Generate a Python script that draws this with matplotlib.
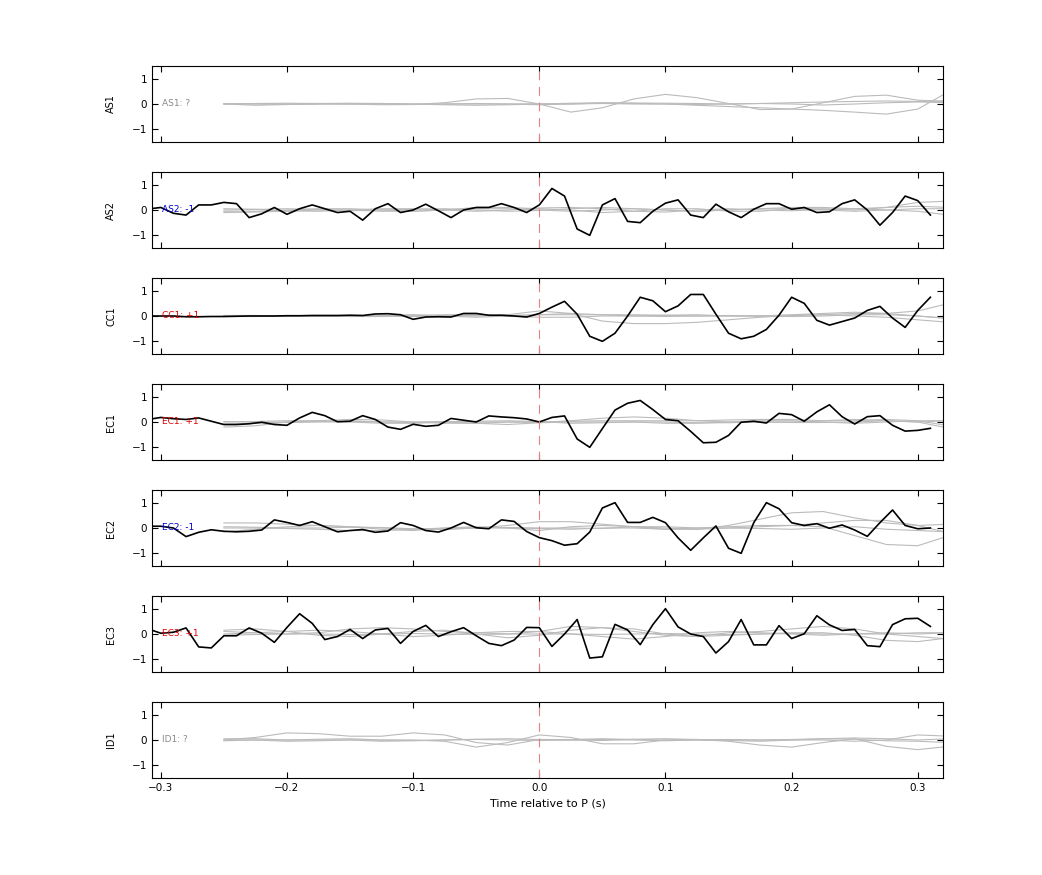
import numpy as np
import matplotlib.pyplot as plt

stations = ['AS1', 'AS2', 'CC1', 'EC1', 'EC2', 'EC3', 'ID1']
polarity = ['?', '-1', '+1', '+1', '-1', '+1', '?']
pol_color = {'?': '#888888', '-1': '#0000cc', '+1': '#dd0000'}

# black traces, sampled every 0.01 s from -0.31 to 0.31
t_obs = np.round(np.arange(-31, 32) * 0.01, 2)
obs = {
    'AS2': [0.04, 0.1, -0.13, -0.2, 0.2, 0.2, 0.3, 0.25, -0.3, -0.15, 0.1, -0.17, 0.05, 0.2, 0.05, -0.1,
            -0.05, -0.4, 0.05, 0.25, -0.1, 0, 0.23, -0.03, -0.3, 0, 0.1, 0.1, 0.25, 0.1, -0.1, 0.2,
            0.85, 0.55, -0.75, -1.0, 0.2, 0.45, -0.45, -0.5, -0.05, 0.27, 0.4, -0.2, -0.3, 0.23, -0.07,
            -0.3, 0.03, 0.25, 0.25, 0.03, 0.1, -0.1, -0.07, 0.25, 0.4, 0.0, -0.6, -0.1, 0.55, 0.37, -0.2],
    'CC1': [0, 0, 0, -0.03, -0.03, -0.02, -0.02, -0.01, 0, 0, 0, 0.01, 0.01, 0.02, 0.02, 0.02,
            0.03, 0.02, 0.08, 0.09, 0.05, -0.13, -0.04, -0.03, -0.04, 0.1, 0.1, 0.03, 0.03, 0, -0.04, 0.1,
            0.35, 0.58, 0.07, -0.8, -1.0, -0.68, 0, 0.74, 0.6, 0.17, 0.4, 0.85, 0.85, 0.07, -0.68,
            -0.9, -0.8, -0.53, 0.03, 0.74, 0.5, -0.17, -0.36, -0.22, -0.08, 0.22, 0.38, -0.08, -0.45, 0.22, 0.74],
    'EC1': [0.1, 0.18, 0.13, 0.1, 0.16, 0.03, -0.1, -0.1, -0.07, -0.01, -0.1, -0.13, 0.16, 0.38, 0.25, 0.01,
            0.03, 0.25, 0.1, -0.2, -0.29, -0.09, -0.17, -0.13, 0.14, 0.07, 0, 0.24, 0.2, 0.17, 0.12, 0,
            0.18, 0.24, -0.67, -1.0, -0.26, 0.47, 0.74, 0.85, 0.49, 0.1, 0.05, -0.37, -0.82, -0.8, -0.53,
            -0.01, 0.03, -0.04, 0.34, 0.29, 0.03, 0.4, 0.68, 0.21, -0.08, 0.21, 0.25, -0.13, -0.36, -0.33, -0.25],
    'EC2': [0.07, 0.07, 0.0, -0.34, -0.17, -0.07, -0.13, -0.15, -0.13, -0.08, 0.32, 0.22, 0.1, 0.25, 0.05, -0.15,
            -0.1, -0.06, -0.17, -0.12, 0.21, 0.1, -0.1, -0.16, 0, 0.22, 0.01, -0.03, 0.32, 0.26, -0.14, -0.38,
            -0.5, -0.68, -0.62, -0.16, 0.79, 1.0, 0.22, 0.22, 0.42, 0.21, -0.39, -0.88, -0.39, 0.08, -0.8,
            -1.0, 0.21, 1.0, 0.76, 0.21, 0.1, 0.17, -0.01, 0.12, -0.08, -0.33, 0.21, 0.71, 0.1, -0.03, 0],
    'EC3': [0.2, 0.03, 0.07, 0.24, -0.51, -0.55, -0.07, -0.07, 0.24, 0.03, -0.33, 0.26, 0.8, 0.42, -0.22, -0.1,
            0.18, -0.18, 0.16, 0.22, -0.37, 0.1, 0.34, -0.1, 0.09, 0.25, -0.07, -0.37, -0.46, -0.24, 0.26, 0.25,
            -0.49, 0, 0.57, -0.95, -0.9, 0.38, 0.16, -0.42, 0.37, 1.0, 0.28, 0, -0.1, -0.75, -0.3,
            0.57, -0.43, -0.43, 0.33, -0.18, 0.01, 0.72, 0.36, 0.14, 0.18, -0.46, -0.5, 0.37, 0.6, 0.62, 0.3],
}

# grey synthetic traces, every 0.025 s from -0.25 to 0.325
t_syn = np.round(np.arange(-10, 14) * 0.025, 3)
syn = {
    'AS1': [
        [0, 0, -0.02, 0, 0.01, 0, -0.02, 0.05, 0.2, 0.22, 0, -0.32, -0.15, 0.2, 0.38, 0.25, 0.02, -0.22, -0.2, 0.05, 0.3, 0.35, 0.15, 0.1],
        [0, -0.05, -0.02, 0, 0, 0.02, 0, 0, 0, 0, 0.01, 0, 0.02, 0, 0, -0.05, -0.1, -0.15, -0.2, -0.25, -0.32, -0.4, -0.2, 0.5],
        [0.02, 0.01, 0, 0.02, 0.03, 0.02, 0, -0.03, -0.05, -0.03, 0, 0.03, 0.05, 0.04, 0.03, 0.02, 0, 0.02, 0.05, 0.08, 0.1, 0.12, 0.1, 0.12],
        [0, 0.02, 0.03, 0.02, 0, -0.03, -0.02, 0, 0.02, 0, -0.03, 0, 0.04, 0.02, 0, -0.02, 0, 0.02, 0, -0.04, 0, 0.05, 0.08, 0.05],
    ],
    'AS2': [
        [-0.05, -0.05, 0, 0.05, 0.05, 0, -0.05, 0, 0.1, 0.1, 0.05, 0, -0.1, -0.05, 0.05, 0.05, -0.05, -0.05, 0.05, 0.05, 0, 0.1, 0.15, 0.1],
        [0.05, 0.03, -0.03, -0.05, 0, 0.05, 0.05, 0, -0.05, 0, 0.08, 0.1, 0.05, -0.05, -0.08, 0, 0.05, 0, -0.03, 0.02, 0.05, 0, -0.05, -0.2],
        [-0.1, -0.08, -0.05, 0, 0, -0.05, -0.05, 0, 0.05, 0.05, 0, -0.05, 0, 0.05, 0, -0.05, 0, 0.05, 0.05, 0, -0.05, 0, 0.05, 0.05],
        [0, 0.02, 0.05, 0.02, -0.03, 0, 0.03, 0.05, 0, -0.05, -0.02, 0.05, 0.1, 0.05, 0, -0.05, 0, 0.05, 0.1, 0.1, 0.05, 0.1, 0.3, 0.35],
    ],
    'CC1': [
        [0, 0, 0, 0, 0, 0.02, 0.05, 0.02, 0, 0.05, 0.2, 0.1, -0.2, -0.3, -0.3, -0.25, -0.15, -0.05, 0.02, 0.05, 0.1, 0.1, 0, -0.1],
        [0, 0, 0.02, 0, -0.02, 0, 0.03, 0, -0.05, 0, 0.05, 0.1, 0.05, 0, 0.03, 0.05, 0, 0, 0.05, 0.1, 0.15, 0.1, 0.2, 0.5],
        [0.02, 0.02, 0, 0, 0.02, 0, -0.02, 0, 0.02, 0.02, 0.05, 0.05, 0.05, 0.05, 0.03, 0, 0, 0, 0.02, 0.05, 0, -0.05, -0.15, -0.25],
        [-0.02, -0.02, 0, 0, -0.02, -0.02, 0, 0.05, 0.05, 0, -0.05, -0.05, 0, 0, -0.02, 0, 0.02, 0, -0.02, 0, 0.05, 0.05, 0, -0.1],
    ],
    'EC1': [
        [-0.2, -0.15, 0, 0.05, 0.05, 0, 0, 0.02, 0, 0, -0.02, 0.05, 0.15, 0.2, 0.15, 0.05, 0, 0.05, 0.05, 0, -0.05, 0, 0.05, 0.05],
        [0, 0.02, 0.05, 0.05, 0.1, 0.08, 0, -0.05, -0.05, 0, 0, 0.03, 0.05, 0.05, 0.05, 0.05, 0.08, 0.1, 0.1, 0.05, 0.05, 0.1, 0.05, -0.15],
        [0.02, 0, -0.02, 0, 0.02, 0, -0.03, 0, 0.03, 0.05, 0.02, -0.05, -0.03, 0, -0.05, -0.05, 0, 0, -0.02, -0.02, 0, 0.05, 0, -0.25],
        [-0.08, -0.05, 0, 0.02, 0, -0.05, -0.05, 0, -0.05, -0.1, -0.03, 0, 0, 0, 0, -0.03, -0.03, 0, 0, 0.05, 0.1, 0.05, 0, 0.05],
    ],
    'EC2': [
        [0.2, 0.2, 0.15, 0.1, 0.05, 0, -0.05, -0.05, 0, 0.1, 0.25, 0.25, 0.15, 0.05, 0, -0.05, 0.1, 0.35, 0.6, 0.65, 0.4, 0.2, 0.1, 0.15],
        [-0.15, -0.05, 0.05, 0.1, 0.05, -0.05, -0.1, 0, 0.05, 0, -0.1, 0.05, 0.1, 0.05, -0.05, 0, 0.05, 0.1, 0.1, 0.05, -0.3, -0.65, -0.7, -0.3],
        [0.05, 0.03, 0, 0, 0.03, 0.02, -0.03, -0.05, 0, 0.02, 0, 0, -0.02, 0.05, 0.05, 0, 0, 0.05, 0.1, 0.2, 0.3, 0.3, 0.1, -0.2],
        [0, 0, -0.02, -0.05, -0.1, -0.1, -0.05, 0, 0.02, 0, -0.02, -0.05, 0, 0, -0.05, -0.05, 0, -0.02, -0.05, 0, 0.05, -0.05, -0.1, -0.15],
    ],
    'EC3': [
        [0.15, 0.2, 0.1, -0.05, -0.1, 0, 0.1, 0.15, 0, -0.15, -0.05, 0.15, 0.25, 0.2, 0, -0.1, 0.05, 0.1, 0.2, 0.3, 0.2, 0, -0.1, -0.2],
        [0, 0.05, 0.1, 0.15, 0.1, 0, -0.1, -0.05, 0.05, 0.1, 0.1, 0, -0.1, -0.2, -0.1, 0.05, 0.1, 0.05, 0, -0.05, 0, 0.05, 0, 0.05],
        [0.1, 0.05, 0, 0.05, 0.2, 0.25, 0.2, 0.1, 0.05, 0, 0.1, 0.3, 0.25, 0.1, -0.05, -0.1, -0.05, 0, 0.05, 0.05, -0.05, -0.25, -0.3, -0.15],
        [-0.05, -0.02, 0, 0, -0.02, 0, 0.02, 0, -0.02, 0, 0, 0, -0.02, 0, 0.02, 0, -0.02, 0, 0.02, 0, 0, 0, 0.05, 0.05],
    ],
    'ID1': [
        [0, 0.1, 0.28, 0.25, 0.15, 0.15, 0.28, 0.2, -0.1, -0.2, 0.02, 0.02, 0.05, 0.02, 0, 0, 0, 0, 0, 0, -0.05, 0, 0.2, 0.15],
        [0, 0, 0, 0, 0, 0, 0, -0.05, -0.28, -0.1, 0.2, 0.1, -0.15, -0.15, 0, 0.02, -0.05, -0.2, -0.28, -0.1, 0.05, -0.25, -0.38, -0.25],
        [0.05, 0.05, 0, 0.03, 0.05, 0, -0.02, 0, 0.03, 0.05, 0.02, 0, -0.02, 0.03, 0.05, 0.02, -0.02, -0.05, 0, 0.05, 0.08, 0.05, 0, 0.05],
        [-0.03, 0, -0.05, -0.03, 0, -0.05, -0.03, 0, 0.02, 0, -0.02, 0, 0.02, 0, -0.03, 0, 0.02, 0, 0.02, 0.05, 0.03, -0.03, -0.05, -0.1],
    ],
}

fig = plt.figure(figsize=(10.42, 8.75), dpi=100)
left, width = 152 / 1042, 791 / 1042
h = 76 / 875
for i, st in enumerate(stations):
    top = 66 + 106 * i
    ax = fig.add_axes([left, 1 - (top + 76) / 875, width, h])
    for s in syn[st]:
        ax.plot(t_syn, s, color='#bbbbbb', lw=0.8)
    if st in obs:
        ax.plot(t_obs, obs[st], color='k', lw=1.2)
    ax.axvline(0, color='#e88080', lw=0.8, dashes=(8, 6))
    ax.set_xlim(-0.307, 0.32)
    ax.set_ylim(-1.5, 1.5)
    ax.set_yticks([-1, 0, 1])
    ax.set_xticks([-0.3, -0.2, -0.1, 0, 0.1, 0.2, 0.3])
    ax.tick_params(direction='in', top=True, right=True, labelsize=7.5, length=4)
    ax.set_ylabel(st, fontsize=7)
    ax.yaxis.set_label_coords(-0.045, 0.5)
    p = polarity[i]
    ax.text(-0.299, 0, st + ': ' + p, color=pol_color[p], fontsize=6.5, va='center')
    if i < len(stations) - 1:
        ax.set_xticklabels([])
    else:
        ax.set_xlabel('Time relative to P (s)', fontsize=8)

fig.savefig('out.png', dpi=100)
